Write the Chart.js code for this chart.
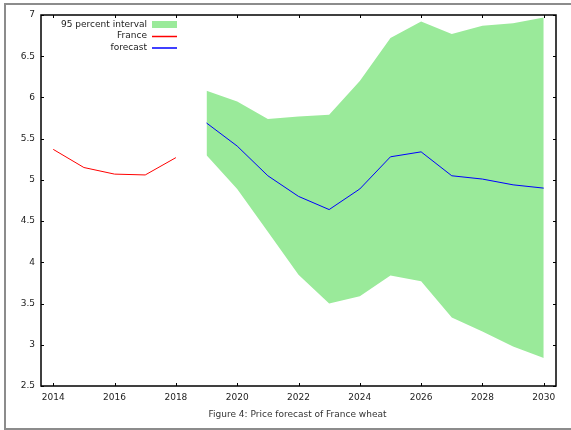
<!DOCTYPE html>
<html>
<head>
<meta charset="utf-8">
<title>Price forecast of France wheat</title>
<script src="https://cdn.jsdelivr.net/npm/chart.js@4.4.1/dist/chart.umd.min.js"></script>
<style>
    html, body { margin: 0; padding: 0; background: #fff; }
    body { width: 571px; height: 430px; overflow: hidden; position: relative; }
    .figure-frame {
        position: absolute; left: 4px; top: 3px; width: 640px; height: 427px;
        box-sizing: border-box; border: 2px solid #8c8c8c;
    }
    #chart { position: absolute; left: 0; top: 0; }
</style>
</head>
<body>
<div class="figure-frame"></div>
<canvas id="chart" width="571" height="430"></canvas>
<script>
// historical prices
var franceYears = [2014, 2015, 2016, 2017, 2018];
var franceValues = [5.37, 5.15, 5.07, 5.06, 5.27];

// forecast + 95% band
var forecastYears = [2019, 2020, 2021, 2022, 2023, 2024, 2025, 2026, 2027, 2028, 2029, 2030];
var forecastValues = [5.69, 5.41, 5.05, 4.80, 4.64, 4.89, 5.28, 5.34, 5.05, 5.01, 4.94, 4.90];
var upperValues = [6.08, 5.95, 5.74, 5.77, 5.79, 6.20, 6.72, 6.92, 6.77, 6.87, 6.90, 6.97];
var lowerValues = [5.30, 4.89, 4.37, 3.85, 3.50, 3.59, 3.84, 3.77, 3.33, 3.16, 2.98, 2.84];

var xTicks = [2014, 2016, 2018, 2020, 2022, 2024, 2026, 2028, 2030];
var yTicks = [2.5, 3, 3.5, 4, 4.5, 5, 5.5, 6, 6.5, 7];

var caption = 'Figure 4: Price forecast of France wheat';

(function () {
    'use strict';

    var FONT = '"DejaVu Sans", Verdana, sans-serif';
    var TICK = 3;

    function points(xs, ys) {
        var out = [];
        for (var i = 0; i < xs.length; i++) {
            out.push({ x: xs[i], y: ys[i] });
        }
        return out;
    }

    // gnuplot-ish frame: inward ticks on all four sides, key top-left, caption below
    var gnuplotFrame = {
        id: 'gnuplotFrame',
        afterDraw: function (chart) {
            var ctx = chart.ctx;
            var a = chart.chartArea;
            var sx = chart.scales.x;
            var sy = chart.scales.y;
            var i, px, py;

            ctx.save();
            ctx.strokeStyle = '#000';
            ctx.lineWidth = 1;
            ctx.beginPath();
            for (i = 0; i < sx.ticks.length; i++) {
                px = Math.round(sx.getPixelForValue(sx.ticks[i].value)) + 0.5;
                ctx.moveTo(px, a.bottom);
                ctx.lineTo(px, a.bottom - TICK);
                ctx.moveTo(px, a.top);
                ctx.lineTo(px, a.top + TICK);
            }
            for (i = 0; i < sy.ticks.length; i++) {
                py = Math.round(sy.getPixelForValue(sy.ticks[i].value)) + 0.5;
                ctx.moveTo(a.left, py);
                ctx.lineTo(a.left + TICK, py);
                ctx.moveTo(a.right, py);
                ctx.lineTo(a.right - TICK, py);
            }
            ctx.stroke();

            ctx.lineWidth = 1.5;
            ctx.strokeRect(a.left, a.top, a.right - a.left, a.bottom - a.top);

            // key
            var ds = chart.data.datasets;
            var keyRight = a.left + 106;
            var sampleX = keyRight + 5;
            var sampleW = 25;
            ctx.font = '9px ' + FONT;
            ctx.fillStyle = '#222';
            ctx.textAlign = 'right';
            ctx.textBaseline = 'middle';

            ctx.fillText(ds[0].label, keyRight, a.top + 9.5);
            ctx.fillStyle = ds[0].backgroundColor;
            ctx.fillRect(sampleX, a.top + 6, sampleW, 7);

            ctx.fillStyle = '#222';
            ctx.fillText(ds[2].label, keyRight, a.top + 21);
            ctx.strokeStyle = ds[2].borderColor;
            ctx.beginPath();
            ctx.moveTo(sampleX, a.top + 21.5);
            ctx.lineTo(sampleX + sampleW, a.top + 21.5);
            ctx.stroke();

            ctx.fillText(ds[3].label, keyRight, a.top + 32.5);
            ctx.strokeStyle = ds[3].borderColor;
            ctx.beginPath();
            ctx.moveTo(sampleX, a.top + 33);
            ctx.lineTo(sampleX + sampleW, a.top + 33);
            ctx.stroke();

            // caption
            ctx.fillStyle = '#333';
            ctx.textAlign = 'center';
            ctx.fillText(caption, 297.5, 415);
            ctx.restore();
        }
    };

    var canvas = document.getElementById('chart');

    new Chart(canvas, {
        type: 'line',
        data: {
            datasets: [{
                label: '95 percent interval',
                data: points(forecastYears, upperValues),
                borderWidth: 0,
                pointRadius: 0,
                backgroundColor: '#9aea9a',
                fill: '+1'
            }, {
                label: 'lower',
                data: points(forecastYears, lowerValues),
                borderWidth: 0,
                pointRadius: 0,
                fill: false
            }, {
                label: 'France',
                data: points(franceYears, franceValues),
                borderColor: '#ff0000',
                borderWidth: 1,
                pointRadius: 0,
                fill: false
            }, {
                label: 'forecast',
                data: points(forecastYears, forecastValues),
                borderColor: '#0000ff',
                borderWidth: 1,
                pointRadius: 0,
                fill: false
            }]
        },
        options: {
            responsive: false,
            animation: false,
            layout: { padding: { top: 15, right: 15, left: 0, bottom: 0 } },
            plugins: {
                legend: { display: false },
                tooltip: { enabled: false },
                filler: { drawTime: 'beforeDatasetsDraw' }
            },
            scales: {
                x: {
                    type: 'linear',
                    min: 2013.6,
                    max: 2030.4,
                    afterBuildTicks: function (s) {
                        s.ticks = xTicks.map(function (v) { return { value: v }; });
                    },
                    afterFit: function (s) { s.height = 44; },
                    border: { display: false },
                    grid: { display: false, drawTicks: false },
                    ticks: {
                        autoSkip: false,
                        maxRotation: 0,
                        padding: 6,
                        color: '#222',
                        font: { family: FONT, size: 9 },
                        callback: function (v) { return String(v); }
                    }
                },
                y: {
                    min: 2.5,
                    max: 7,
                    afterBuildTicks: function (s) {
                        s.ticks = yTicks.map(function (v) { return { value: v }; });
                    },
                    afterFit: function (s) { s.width = 41; },
                    border: { display: false },
                    grid: { display: false, drawTicks: false },
                    ticks: {
                        autoSkip: false,
                        padding: 6,
                        color: '#222',
                        font: { family: FONT, size: 9 },
                        callback: function (v) { return String(v); }
                    }
                }
            }
        },
        plugins: [gnuplotFrame]
    });
})();
</script>
</body>
</html>
